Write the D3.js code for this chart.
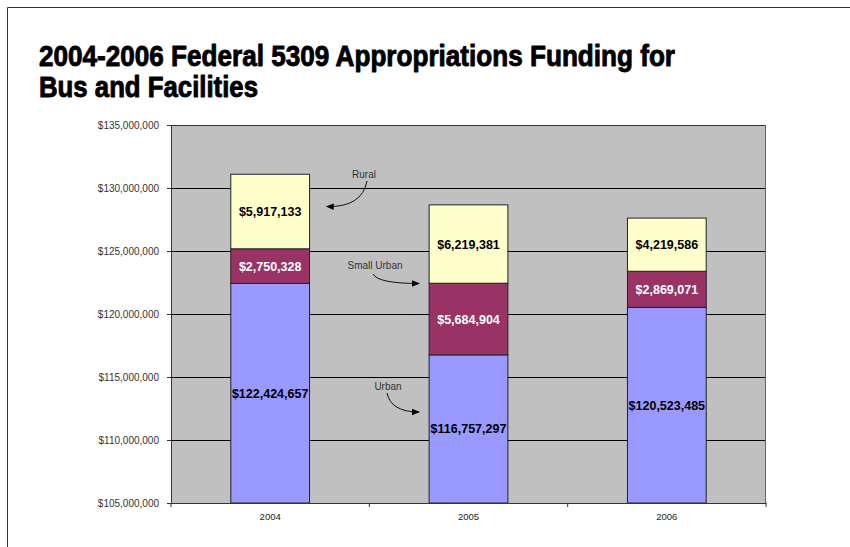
<!DOCTYPE html>
<html>
<head>
<meta charset="utf-8">
<script src="https://cdn.jsdelivr.net/npm/d3@7"></script>
<style>
  html, body { margin: 0; padding: 0; background: #fff; }
  svg { display: block; }
</style>
</head>
<body>
<svg id="chart" width="850" height="547"></svg>
<script>
// Funding years and program series (dollars)
const years = ["2004", "2005", "2006"];
const seriesNames = ["Urban", "Small Urban", "Rural"];
const urban = [122424657, 116757297, 120523485];
const smallUrban = [2750328, 5684904, 2869071];
const rural = [5917133, 6219381, 4219586];
const yTicks = [105000000, 110000000, 115000000, 120000000, 125000000, 130000000, 135000000];
const seriesColors = ["#9999FF", "#993366", "#FFFFCC"];
const labelColors = ["#000", "#fff", "#000"];

// Callout notes pointing at segments of the stacked bars
const notes = [
  { text: "Rural", year: "2004", series: "Rural" },
  { text: "Small Urban", year: "2005", series: "Small Urban" },
  { text: "Urban", year: "2005", series: "Urban" }
];

const svg = d3.select("#chart");
const W = 850, H = 547;
const plot = { left: 171, right: 766, top: 125, bottom: 503 };

// Page frame (top and left rules)
svg.append("line").attr("x1", 7.5).attr("x2", W).attr("y1", 7.5).attr("y2", 7.5)
  .attr("stroke", "#333").attr("stroke-width", 1);
svg.append("line").attr("x1", 7.5).attr("x2", 7.5).attr("y1", 7.5).attr("y2", H)
  .attr("stroke", "#333").attr("stroke-width", 1);

// Title
const titleLines = ["2004-2006 Federal 5309 Appropriations Funding for", "Bus and Facilities"];
const titleWidths = [636, 219];
const title = svg.append("g")
  .attr("font-family", "'Liberation Sans', Arial, sans-serif")
  .attr("font-weight", "bold").attr("font-size", 29).attr("fill", "#000")
  .attr("stroke", "#000").attr("stroke-width", 0.9).attr("stroke-linejoin", "round");
titleLines.forEach((t, i) => {
  title.append("text").attr("x", 39).attr("y", 66 + i * 31)
    .attr("textLength", titleWidths[i]).attr("lengthAdjust", "spacingAndGlyphs")
    .text(t);
});

// Scales
const x = d3.scaleBand().domain(years).range([plot.left, plot.right]).padding(0);
const y = d3.scaleLinear().domain([105000000, 135000000]).range([plot.bottom, plot.top]);
const barW = x.bandwidth() * 0.397;

// Stack the series
const rows = years.map((yr, i) => ({ year: yr, "Urban": urban[i], "Small Urban": smallUrban[i], "Rural": rural[i] }));
const stacked = d3.stack().keys(seriesNames)(rows);

// Plot background
svg.append("rect").attr("x", plot.left).attr("y", plot.top)
  .attr("width", plot.right - plot.left).attr("height", plot.bottom - plot.top)
  .attr("fill", "#C0C0C0");

// Gridlines
svg.append("g").selectAll("line").data(yTicks.slice(1, -1)).join("line")
  .attr("x1", plot.left).attr("x2", plot.right)
  .attr("y1", d => Math.round(y(d)) + 0.5).attr("y2", d => Math.round(y(d)) + 0.5)
  .attr("stroke", "#000").attr("stroke-width", 1);
svg.append("line").attr("x1", plot.left).attr("x2", plot.right)
  .attr("y1", plot.top + 0.5).attr("y2", plot.top + 0.5).attr("stroke", "#333");
svg.append("line").attr("x1", plot.right - 0.5).attr("x2", plot.right - 0.5)
  .attr("y1", plot.top).attr("y2", plot.bottom).attr("stroke", "#666");

// Bars
const layers = svg.append("g").selectAll("g").data(stacked).join("g")
  .attr("fill", (d, i) => seriesColors[i]);
layers.selectAll("rect").data(d => d).join("rect")
  .attr("x", d => x(d.data.year) + (x.bandwidth() - barW) / 2)
  .attr("y", d => y(d[1]))
  .attr("width", barW)
  .attr("height", d => y(Math.max(d[0], 105000000)) - y(d[1]))
  .attr("stroke", "#222").attr("stroke-width", 1);

// Value labels
const fmt = d3.format("$,");
stacked.forEach((layer, si) => {
  svg.append("g").selectAll("text").data(layer).join("text")
    .attr("x", d => x(d.data.year) + x.bandwidth() / 2)
    .attr("y", d => (y(Math.max(d[0], 105000000)) + y(d[1])) / 2)
    .attr("dy", "0.36em")
    .attr("text-anchor", "middle")
    .attr("font-family", "'Liberation Sans', Arial, sans-serif")
    .attr("font-weight", "bold").attr("font-size", 12.5)
    .attr("fill", labelColors[si])
    .text(d => fmt(d.data[layer.key]));
});

// Y axis
const yAxis = svg.append("g").attr("transform", `translate(${plot.left},0)`)
  .call(d3.axisLeft(y).tickValues(yTicks).tickFormat(d3.format("$,")).tickSize(4).tickPadding(8));
yAxis.select(".domain").attr("stroke", "#333");
yAxis.selectAll(".tick line").attr("stroke", "#333");
yAxis.selectAll("text").attr("font-family", "'Liberation Sans', Arial, sans-serif")
  .attr("font-size", 10).attr("fill", "#333");

// X axis with ticks on category boundaries
const xAxis = svg.append("g").attr("transform", `translate(0,${plot.bottom})`)
  .call(d3.axisBottom(x).tickSize(0).tickPadding(10));
xAxis.select(".domain").attr("stroke", "#333");
xAxis.selectAll("text").attr("font-family", "'Liberation Sans', Arial, sans-serif")
  .attr("font-size", 9.5).attr("fill", "#222");
xAxis.append("g").selectAll("line").data(years.concat(["end"])).join("line")
  .attr("x1", (d, i) => plot.left + i * x.step()).attr("x2", (d, i) => plot.left + i * x.step())
  .attr("y1", 0).attr("y2", 4).attr("stroke", "#333");

// Callouts
const defs = svg.append("defs");
defs.append("marker").attr("id", "arrowhead").attr("viewBox", "0 0 10 10")
  .attr("refX", 9).attr("refY", 5).attr("markerWidth", 8).attr("markerHeight", 8)
  .attr("markerUnits", "userSpaceOnUse").attr("orient", "auto")
  .append("path").attr("d", "M0,1 L10,5 L0,9 Z").attr("fill", "#000");

const segMid = (yr, key) => {
  const layer = stacked.find(l => l.key === key);
  const d = layer[years.indexOf(yr)];
  return (y(Math.max(d[0], 105000000)) + y(d[1])) / 2;
};
const barLeft = yr => x(yr) + (x.bandwidth() - barW) / 2;
const barRight = yr => barLeft(yr) + barW;

const noteGeom = [
  // Rural: text right of the 2004 bar, arrow bending back toward it
  () => {
    const tx = 364, ty = 174;
    const ex = barRight("2004") + 17, ey = segMid("2004", "Rural") - 5;
    return { tx, ty, d: `M${tx + 3},${ty + 7} Q${tx - 2},${ey + 1} ${ex},${ey}` };
  },
  // Small Urban: arrow curving into the 2005 small urban segment
  () => {
    const tx = 375, ty = 265;
    const ex = barLeft("2005") - 10, ey = y(122500000) + 1;
    return { tx, ty, d: `M${tx - 2},${ty + 9} Q${tx + 3},${ey} ${ex},${ey}` };
  },
  // Urban: arrow curving into the 2005 urban segment
  () => {
    const tx = 388, ty = 386;
    const ex = barLeft("2005") - 10, ey = 412;
    return { tx, ty, d: `M${tx - 1},${ty + 7} Q${tx + 3},${ey} ${ex},${ey}` };
  }
];

notes.forEach((n, i) => {
  const g = noteGeom[i]();
  svg.append("text").attr("x", g.tx).attr("y", g.ty).attr("dy", "0.35em")
    .attr("text-anchor", "middle")
    .attr("font-family", "'Liberation Sans', Arial, sans-serif")
    .attr("font-size", 10).attr("fill", "#333").text(n.text);
  svg.append("path").attr("d", g.d).attr("fill", "none")
    .attr("stroke", "#111").attr("stroke-width", 1)
    .attr("marker-end", "url(#arrowhead)");
});
</script>
</body>
</html>
